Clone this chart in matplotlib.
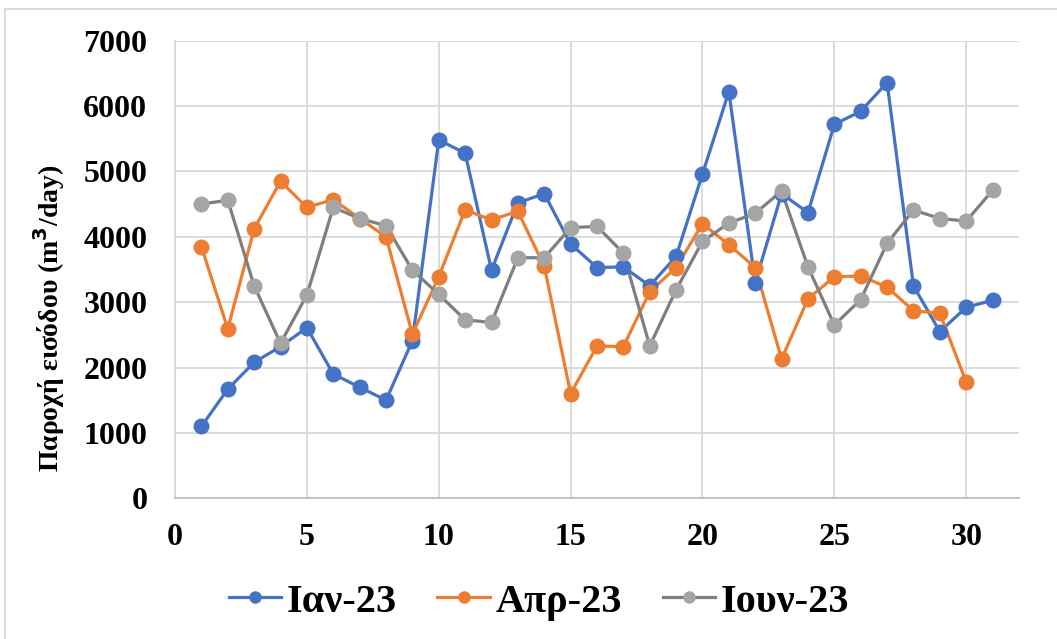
import numpy as np
import matplotlib.pyplot as plt
from matplotlib.lines import Line2D

# Daily inflow values
days = np.arange(1, 32)
jan = [1100, 1670, 2080, 2320, 2610, 1900, 1700, 1500, 2410, 5480,
       5280, 3490, 4520, 4660, 3890, 3530, 3540, 3250, 3700, 4960,
       6220, 3300, 4660, 4370, 5720, 5920, 6360, 3250, 2550, 2920, 3030]
apr = [3850, 2590, 4120, 4850, 4450, 4570, 4280, 4000, 2510, 3390,
       4410, 4260, 4390, 3550, 1600, 2330, 2320, 3160, 3530, 4200,
       3880, 3530, 2130, 3050, 3390, 3400, 3230, 2870, 2830, 1780]
jun = [4500, 4560, 3250, 2370, 3110, 4450, 4280, 4170, 3490, 3120,
       2730, 2690, 3680, 3680, 4140, 4160, 3750, 2330, 3190, 3930,
       4210, 4360, 4700, 3540, 2650, 3040, 3900, 4410, 4280, 4240, 4710]
labels = ['Ιαν-23', 'Απρ-23', 'Ιουν-23']

plt.rcParams['font.family'] = ['Liberation Serif', 'DejaVu Serif']
plt.rcParams['font.weight'] = 'bold'

fig = plt.figure(figsize=(10.57, 6.39), dpi=100)
ax = fig.add_axes([0.1656, 0.2202, 0.7984, 0.7161])

line_cols = ['#4472C4', '#ED7D31', '#7F7F7F']
marker_cols = ['#4472C4', '#ED7D31', '#A5A5A5']
series = [jan, apr, jun]
for vals, lc, mc in zip(series, line_cols, marker_cols):
    x = days[:len(vals)]
    ax.plot(x, vals, '-', color=lc, linewidth=2.3, zorder=3)
    ax.plot(x, vals, 'o', color=mc, markersize=11.5, markeredgewidth=0, zorder=4)

ax.set_xlim(0, 32)
ax.set_ylim(0, 7000)
ax.set_xticks(np.arange(0, 31, 5))
ax.set_yticks(np.arange(0, 7001, 1000))
ax.grid(True, color='#D9D9D9', linewidth=1.3)
ax.set_axisbelow(True)
for s in ['top', 'right']:
    ax.spines[s].set_visible(False)
ax.spines['left'].set_color('#D9D9D9')
ax.spines['bottom'].set_color('#BFBFBF')
ax.spines['left'].set_linewidth(1.3)
ax.spines['bottom'].set_linewidth(1.3)
ax.tick_params(length=0, labelsize=23)
ax.tick_params(axis='y', pad=20)
ax.tick_params(axis='x', pad=18)
ax.set_ylabel('Παροχή εισόδου (m$^{\\mathbf{3}}$/day)', fontsize=20,
              fontweight='bold')
ax.yaxis.set_label_coords(-0.128, 0.394)

handles = [Line2D([0], [0], color=lc, linewidth=2.3, marker='o',
                  markerfacecolor=mc, markeredgewidth=0, markersize=9)
           for lc, mc in zip(line_cols, marker_cols)]
fig.legend(handles, labels, loc='center', bbox_to_anchor=(0.51, 0.058),
           ncol=3, frameon=False, fontsize=29, handlelength=1.3,
           handletextpad=0.15, columnspacing=1.0)

# partial outer chart border (left and top)
fig.add_artist(Line2D([5 / 1057, 5 / 1057], [0, 1 - 9 / 639],
                      color='#D9D9D9', linewidth=1.3, transform=fig.transFigure))
fig.add_artist(Line2D([5 / 1057, 1], [1 - 9 / 639, 1 - 9 / 639],
                      color='#D9D9D9', linewidth=1.3, transform=fig.transFigure))

fig.savefig('out.png', dpi=100)
